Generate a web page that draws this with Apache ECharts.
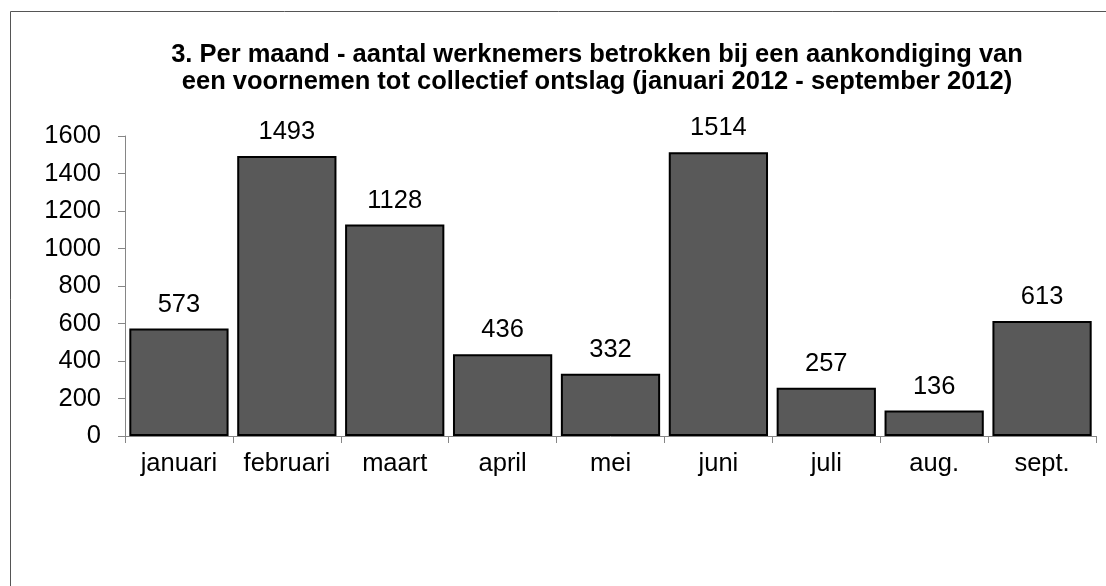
<!DOCTYPE html>
<html>
<head>
<meta charset="utf-8">
<script src="https://cdn.jsdelivr.net/npm/echarts@6/dist/echarts.min.js"></script>
<style>
html,body{margin:0;padding:0;background:#fff;}
#chart{width:1106px;height:586px;}
</style>
</head>
<body>
<div id="chart"></div>
<script>
var months = ['januari', 'februari', 'maart', 'april', 'mei', 'juni', 'juli', 'aug.', 'sept.'];
var werknemers = [573, 1493, 1128, 436, 332, 1514, 257, 136, 613];
var titleLines = [
	'3. Per maand - aantal werknemers betrokken bij een aankondiging van',
	'een voornemen tot collectief ontslag (januari 2012 - september 2012)'
];

var chart = echarts.init(document.getElementById('chart'));
var option = {
	animation: false,
	textStyle: { fontFamily: 'Liberation Sans, Arial, sans-serif' },
	title: {
		text: titleLines.join('\n'),
		left: 592,
		textAlign: 'center',
		top: 36,
		textStyle: {
			fontFamily: 'Liberation Sans, Arial, sans-serif',
			fontSize: 25.5,
			fontWeight: 'bold',
			color: '#000',
			lineHeight: 27
		}
	},
	graphic: [{
		type: 'rect',
		shape: { x: 10.5, y: 11.5, width: 1200, height: 700 },
		style: { fill: 'none', stroke: '#555', lineWidth: 1 },
		silent: true
	}],
	grid: { left: 125, right: 10, top: 136, bottom: 150 },
	xAxis: {
		type: 'category',
		data: months,
		axisLine: { lineStyle: { color: '#868686', width: 1 } },
		axisTick: { show: true, interval: 0, length: 7, lineStyle: { color: '#868686' } },
		axisLabel: { interval: 0, color: '#000', fontSize: 25.5, margin: 15 }
	},
	yAxis: {
		type: 'value',
		min: 0,
		max: 1600,
		interval: 200,
		splitLine: { show: false },
		axisLine: { show: true, lineStyle: { color: '#868686', width: 1 } },
		axisTick: { show: true, length: 7, lineStyle: { color: '#868686' } },
		axisLabel: {
			color: '#000',
			fontSize: 25.5,
			margin: 24,
			formatter: function (v) { return String(v); }
		}
	},
	series: [{
		type: 'bar',
		data: werknemers,
		barCategoryGap: '8%',
		itemStyle: { color: '#595959', borderColor: '#000', borderWidth: 2 },
		label: {
			show: true,
			position: 'top',
			distance: 11,
			color: '#000',
			fontSize: 25.5
		}
	}]
};
chart.setOption(option);
</script>
</body>
</html>
